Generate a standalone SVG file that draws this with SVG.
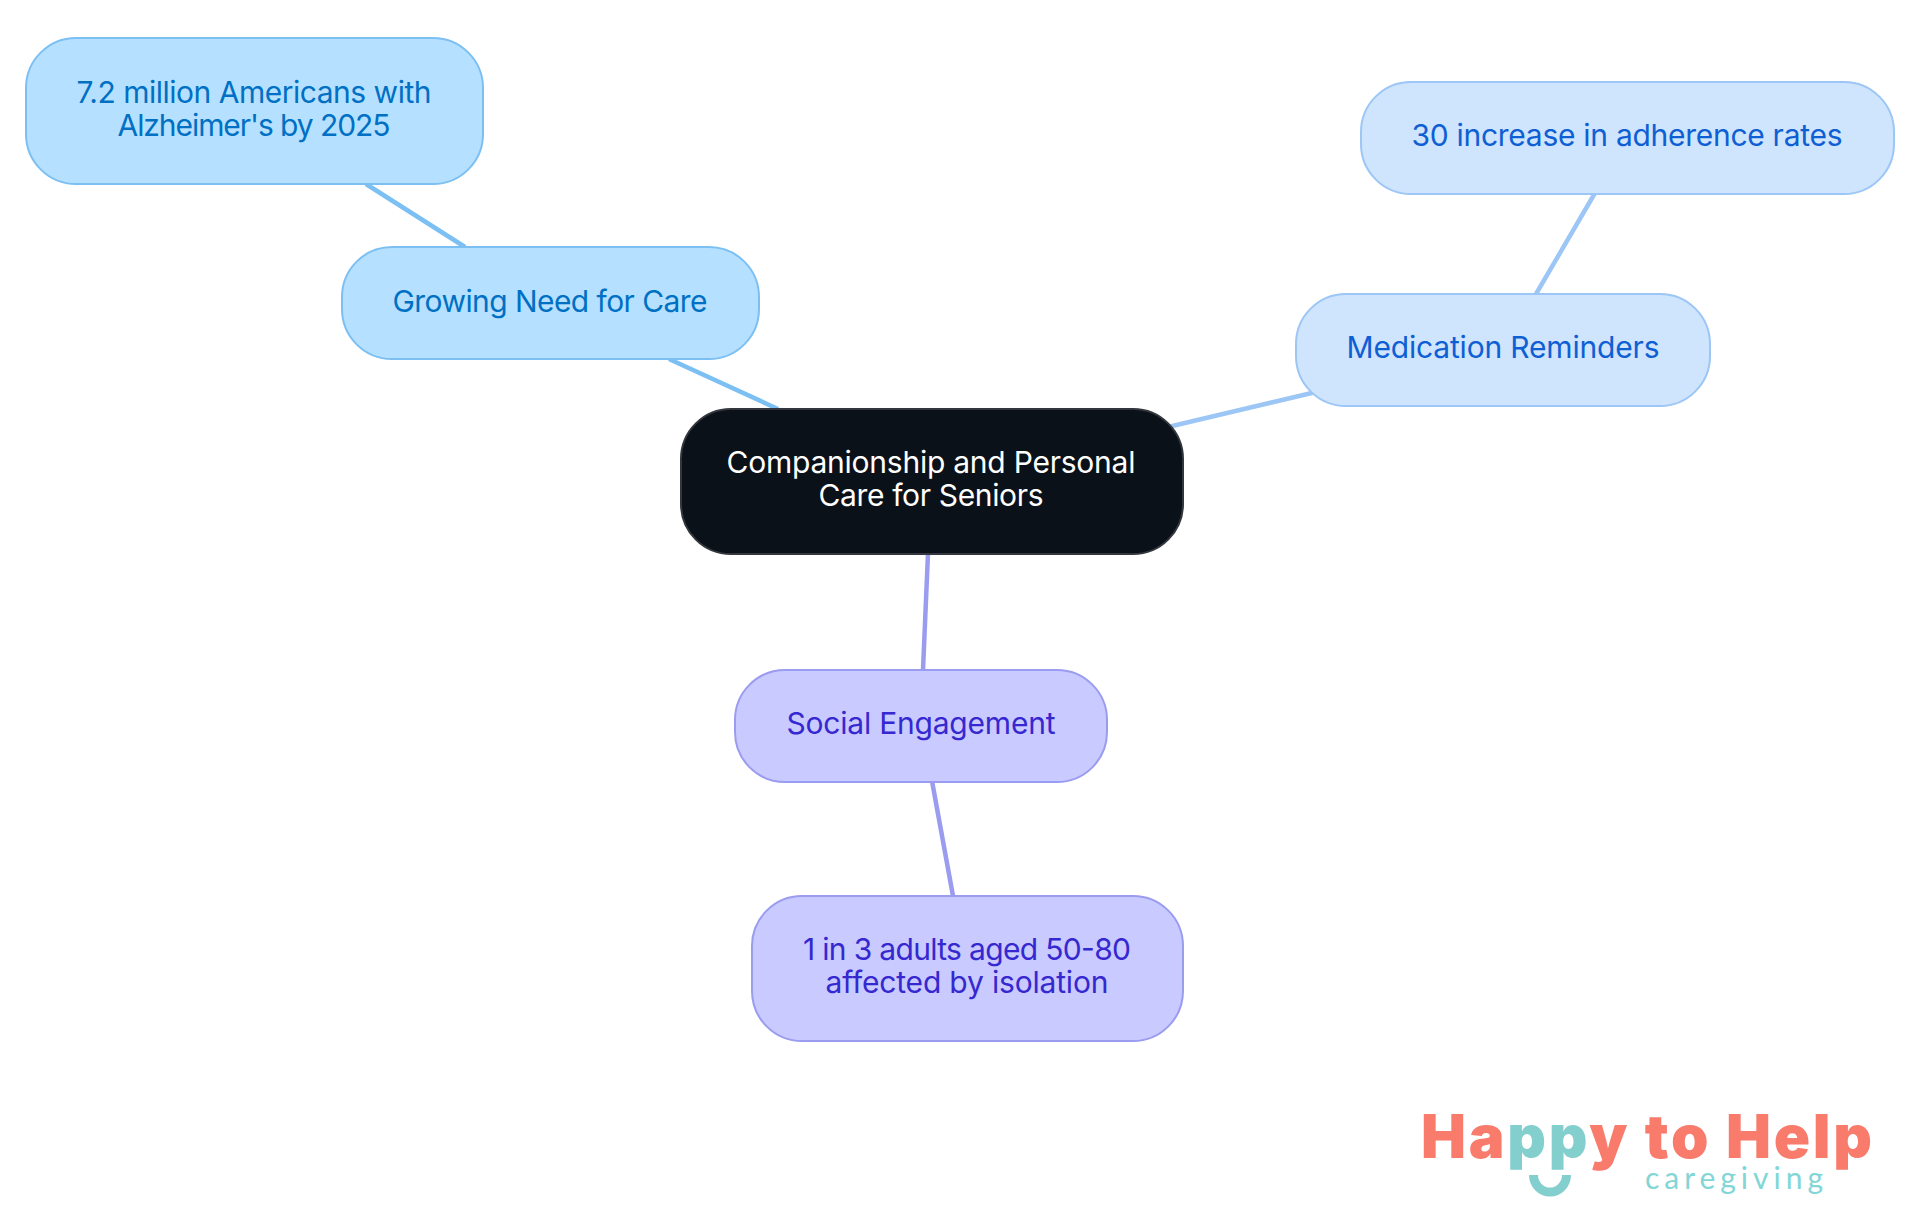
<svg xmlns="http://www.w3.org/2000/svg" width="1920" height="1215" viewBox="0 0 1920 1215">
<style>
text{font-family:Inter,"Noto Sans",sans-serif;font-size:30px;text-anchor:middle;font-weight:400}
rect{stroke-width:2}
.c{fill:none;stroke-width:4.5}
.a rect{fill:#b6e0ff;stroke:#7cc0f3}.a text{fill:#0070c4}
.b rect{fill:#cfe4fd;stroke:#9cc6f5}.b text{fill:#0e5fd4}
.d rect{fill:#c9caff;stroke:#9a9cf0}.d text{fill:#3628d0}
#logo text{text-anchor:start}
</style>
<rect width="1920" height="1215" fill="#fff"/>
<g id="connectors">
<path class="c" stroke="#7cc0f3" d="M669 359L778 409M366 184L465 247"/>
<path class="c" stroke="#9cc6f5" d="M1168 427L1316 392M1536 294L1595 193"/>
<path class="c" stroke="#9a9cf0" d="M928 553L923 670M932 781L953 896"/>
</g>
<g id="root"><rect x="681" y="409" width="502" height="145" rx="50" fill="#0b1119" stroke="#33373d"/><text fill="#fff" x="931" y="473" textLength="409">Companionship and Personal</text><text fill="#fff" x="931" y="506" textLength="225">Care for Seniors</text></g>
<g id="growing" class="a"><rect x="342" y="247" width="417" height="112" rx="50"/><text x="550" y="312" textLength="315">Growing Need for Care</text></g>
<g id="alz" class="a"><rect x="26" y="38" width="457" height="146" rx="50"/><text x="254" y="103" textLength="355">7.2 million Americans with</text><text x="254" y="136" textLength="273">Alzheimer's by 2025</text></g>
<g id="med" class="b"><rect x="1296" y="294" width="414" height="112" rx="50"/><text x="1503" y="358" textLength="313">Medication Reminders</text></g>
<g id="adh" class="b"><rect x="1361" y="82" width="533" height="112" rx="50"/><text x="1627" y="146" textLength="431">30 increase in adherence rates</text></g>
<g id="social" class="d"><rect x="735" y="670" width="372" height="112" rx="50"/><text x="921" y="734" textLength="269">Social Engagement</text></g>
<g id="iso" class="d"><rect x="752" y="896" width="431" height="145" rx="50"/><text x="967" y="960" textLength="328">1 in 3 adults aged 50-80</text><text x="967" y="993" textLength="283">affected by isolation</text></g>
<g id="logo">
<text x="1421" y="1158" fill="#f87b6c" textLength="451" style="font-size:60px;font-weight:900">Ha<tspan fill="#82cfce">pp</tspan>y to Help</text>
<text x="1645" y="1189" fill="#82d6d6" textLength="178" style="font-family:Lato,sans-serif;font-size:30px">caregiving</text>
<path d="M1533.5 1175a16.5 17 0 0 0 33 0" fill="none" stroke="#82cfce" stroke-width="9"/>
</g>
</svg>
